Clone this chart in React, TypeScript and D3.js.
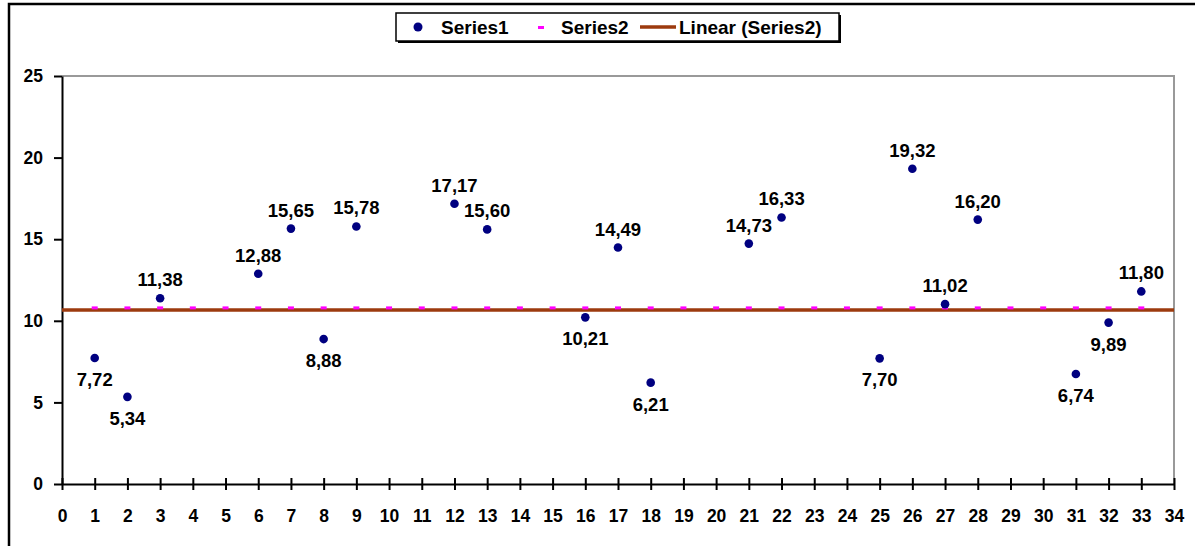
import { useEffect, useRef } from "react";
import * as d3 from "d3";

const s1X = [1, 2, 3, 6, 7, 8, 9, 12, 13, 16, 17, 18, 21, 22, 25, 26, 27, 28, 31, 32, 33];
const s1Y = [7.72, 5.34, 11.38, 12.88, 15.65, 8.88, 15.78, 17.17, 15.6, 10.21, 14.49, 6.21, 14.73, 16.33, 7.7, 19.32, 11.02, 16.2, 6.74, 9.89, 11.8];
// where each data label sits relative to its point
const s1Label = ["below", "below", "above", "above", "above", "below", "above", "above", "above", "below", "above", "below", "above", "above", "below", "above", "above", "above", "below", "below", "above"];

const s2X = d3.range(1, 34);
const s2Value = 10.76;

const xTicks = d3.range(0, 35);
const yTicks = [0, 5, 10, 15, 20, 25];

export default function App() {
  const svgRef = useRef(null);
  const width = 1195;
  const height = 546;

  useEffect(() => {
    const svg = d3.select(svgRef.current);
    svg.selectAll("*").remove();
    svg.attr("width", width).attr("height", height);

    const font = "'Liberation Sans', Arial, sans-serif";

    const x = d3.scaleLinear().domain([0, 34]).range([62, 1174]);
    const y = d3.scaleLinear().domain([0, 25]).range([484, 76]);

    svg.append("rect").attr("width", width).attr("height", height).attr("fill", "#fff");

    // outer frame (cropped on right/bottom)
    svg.append("path")
      .attr("d", `M9,${height} L9,4 L${width},4`)
      .attr("fill", "none").attr("stroke", "#000").attr("stroke-width", 2.5);

    // plot area frame (top and right in grey)
    svg.append("path")
      .attr("d", `M${x(0)},${y(25)} L${x(34)},${y(25)} L${x(34)},${y(0)}`)
      .attr("fill", "none").attr("stroke", "#999").attr("stroke-width", 2);

    // y axis
    const yAxis = svg.append("g").attr("transform", `translate(${x(0)},0)`)
      .call(d3.axisLeft(y).tickValues(yTicks).tickSize(8).tickPadding(11).tickSizeOuter(0));
    yAxis.select(".domain").attr("stroke", "#000").attr("stroke-width", 2);
    yAxis.selectAll(".tick line").attr("stroke", "#000").attr("stroke-width", 2);
    yAxis.selectAll(".tick text")
      .attr("font-family", font).attr("font-size", 17.5).attr("font-weight", "bold").attr("fill", "#000");

    // x axis
    const xAxis = svg.append("g").attr("transform", `translate(0,${y(0)})`)
      .call(d3.axisBottom(x).tickValues(xTicks).tickSize(6).tickPadding(20).tickSizeOuter(0).tickFormat(d3.format("d")));
    xAxis.select(".domain").attr("stroke", "#000").attr("stroke-width", 2);
    xAxis.selectAll(".tick line").attr("stroke", "#000").attr("stroke-width", 2).attr("y1", -6);
    xAxis.selectAll(".tick text")
      .attr("font-family", font).attr("font-size", 17.5).attr("font-weight", "bold").attr("fill", "#000");

    // trend line of Series2
    svg.append("line")
      .attr("x1", x(0)).attr("x2", x(34))
      .attr("y1", y(s2Value) + 1.5).attr("y2", y(s2Value) + 1.5)
      .attr("stroke", "#9C3A0E").attr("stroke-width", 3.5);

    // Series2 dashes
    svg.append("g").selectAll("rect").data(s2X).join("rect")
      .attr("x", d => x(d) - 3).attr("y", y(s2Value) - 2)
      .attr("width", 6).attr("height", 3)
      .attr("fill", "#FF00FF");

    // Series1 points
    const pts = s1X.map((d, i) => ({ x: d, y: s1Y[i], pos: s1Label[i] }));
    svg.append("g").selectAll("circle").data(pts).join("circle")
      .attr("cx", d => x(d.x)).attr("cy", d => y(d.y)).attr("r", 4.3)
      .attr("fill", "#000080");

    svg.append("g").selectAll("text").data(pts).join("text")
      .attr("x", d => x(d.x))
      .attr("y", d => y(d.y) + (d.pos === "above" ? -12 : 28))
      .attr("text-anchor", "middle")
      .attr("font-family", font).attr("font-size", 18.5).attr("font-weight", "bold").attr("fill", "#000")
      .text(d => d.y.toFixed(2).replace(".", ","));

    // legend
    const lg = svg.append("g");
    lg.append("rect").attr("x", 398).attr("y", 15).attr("width", 443).attr("height", 28).attr("fill", "#000");
    lg.append("rect").attr("x", 396).attr("y", 13).attr("width", 443).attr("height", 28)
      .attr("fill", "#fff").attr("stroke", "#000").attr("stroke-width", 1.5);
    lg.append("circle").attr("cx", 418).attr("cy", 27).attr("r", 4.5).attr("fill", "#000080");
    lg.append("rect").attr("x", 538).attr("y", 26).attr("width", 6).attr("height", 3).attr("fill", "#FF00FF");
    lg.append("line").attr("x1", 640).attr("x2", 676).attr("y1", 27).attr("y2", 27)
      .attr("stroke", "#9C3A0E").attr("stroke-width", 3.5);
    const legendText = [["Series1", 441], ["Series2", 561], ["Linear (Series2)", 679]] as [string, number][];
    lg.selectAll("text").data(legendText).join("text")
      .attr("x", d => d[1]).attr("y", 34)
      .attr("font-family", font).attr("font-size", 19).attr("font-weight", "bold").attr("fill", "#000")
      .text(d => d[0]);
  }, []);

  return (
    <div style={{ position: "absolute", left: 0, top: 0 }}>
      <svg ref={svgRef} style={{ display: "block" }}></svg>
    </div>
  );
}
